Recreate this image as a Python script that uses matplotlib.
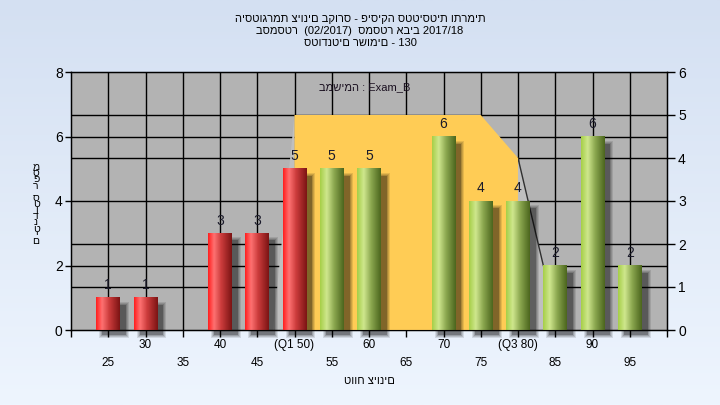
import numpy as np
import matplotlib
matplotlib.use('Agg')
import matplotlib.pyplot as plt
from matplotlib.colors import LinearSegmentedColormap
from matplotlib.patches import Polygon, Rectangle
import matplotlib.transforms as mtransforms

plt.rcParams['font.family'] = ['Liberation Sans', 'DejaVu Sans']

# ---------------- data ----------------
grades = [25, 30, 35, 40, 45, 50, 55, 60, 65, 70, 75, 80, 85, 90, 95]
tick_labels = ["25", "30", "35", "40", "45", "(Q1 50)", "55", "60", "65",
               "70", "75", "(Q3 80)", "85", "90", "95"]
counts = [1, 1, 0, 3, 3, 5, 5, 5, 0, 6, 4, 4, 2, 6, 2]
fail_limit = 50          # grades <= this are drawn red
q1_grade, q3_grade = 50, 80
band_top_right = 5       # right-axis value of the IQR band
band_shoulder_grade = 75
band_q3_right = 4
title_lines = ["היסטוגרמת ציונים בקורס - פיסיקה סטטיסטית ותרמית",
               "בסמסטר  (02/2017)  סמסטר אביב 2017/18",
               "סטודנטים רשומים - 130"]
task_text = "במשימה : Exam_B"
xlabel = "טווח ציונים"
ylabel = "מספר סטודנטים"
left_max, right_max = 8, 6

# ---------------- figure ----------------
W, H = 720, 405
fig = plt.figure(figsize=(W / 100, H / 100), dpi=100)

bg = fig.add_axes([0, 0, 1, 1], zorder=-10)
grad = np.linspace(0, 1, 256)[:, None]
bgcmap = LinearSegmentedColormap.from_list('bg', ['#d4e0f2', '#eef5fe'])
bg.imshow(grad, aspect='auto', cmap=bgcmap, extent=[0, 1, 0, 1], origin='upper')
bg.set_axis_off()

L, R, T, B = 71, 667, 72, 330
ax = fig.add_axes([L / W, (H - B) / H, (R - L) / W, (B - T) / H])
ax.set_facecolor('#b3b3b3')
n = len(grades)
xpos = np.arange(1, n + 1)
ax.set_xlim(0, n + 1)
ax.set_ylim(0, left_max)
k = left_max / right_max   # right -> left units
pos = {g: x for g, x in zip(grades, xpos)}

# grid
for x in xpos:
    ax.axvline(x, color='black', lw=1.0, zorder=1)
for y in [2, 4, 6]:
    ax.axhline(y, color='black', lw=1.0, zorder=1)
for y in [1, 2, 4, 5]:
    ax.axhline(y * k, color='black', lw=1.0, zorder=1)

bar_w = 0.64
xq1, xq3 = pos[q1_grade], pos[q3_grade]
xs = pos[band_shoulder_grade]
# shaded wedges
ax.add_patch(Polygon([(xq1 - 0.58, 0), (xq1, band_top_right * k), (xq1, 0)],
                     closed=True, facecolor='#bfbfbf', edgecolor='none', zorder=2))
nx = xq3 + 1 - bar_w / 2
ny = counts[grades.index(q3_grade) + 1]
ax.add_patch(Polygon([(xq3, band_q3_right * k), (nx, ny), (nx, 0), (xq3, 0)],
                     closed=True, facecolor='#bfbfbf', edgecolor='none', zorder=2))
ax.plot([xq3, nx], [band_q3_right * k, ny], color='#303030', lw=1.0, zorder=2.5)
# IQR band
ax.add_patch(Polygon([(xq1, 0), (xq1, band_top_right * k), (xs, band_top_right * k),
                      (xq3, band_q3_right * k), (xq3, 0)],
                     closed=True, facecolor='#ffcc55', edgecolor='none', zorder=3))

red_cmap = LinearSegmentedColormap.from_list(
    'r', [(0, '#ff1e1e'), (0.25, '#ff7272'), (0.55, '#cc3c3c'), (1, '#7c1414')])
green_cmap = LinearSegmentedColormap.from_list(
    'g', [(0, '#a6cf48'), (0.28, '#cfe78e'), (0.6, '#8aa64e'), (1, '#4c661e')])

px_x = 1 / 37.25
px_y = left_max / (B - T)
for g, x, h in zip(grades, xpos, counts):
    if h == 0:
        continue
    x0, x1 = x - bar_w / 2, x + bar_w / 2
    # shadow
    for e, a in [(3, 0.10), (2, 0.12), (1, 0.15), (0, 0.25)]:
        ax.add_patch(Rectangle((x0 + 6 * px_x - e * px_x, -5 * px_y - e * px_y),
                               bar_w + 2 * e * px_x, h + 2 * e * px_y - 2 * px_y,
                               facecolor='black', alpha=a, edgecolor='none',
                               zorder=4, clip_on=False))
    cm = red_cmap if g <= fail_limit else green_cmap
    img = cm(np.linspace(0, 1, 64))[None, :, :]
    ax.imshow(img, extent=[x0, x1, 0, h], aspect='auto', zorder=5,
              interpolation='bilinear')
    ax.annotate(str(h), (x, h), xytext=(0, 4), textcoords='offset points',
                ha='center', va='bottom', fontsize=10, color='#1a1a2a', zorder=6)
ax.set_xlim(0, n + 1)
ax.set_ylim(0, left_max)
ax.set_aspect('auto')

ax.text(0.493, 0.94, task_text, transform=ax.transAxes, ha='center', va='center',
        fontsize=8, color='#1a1020', zorder=6)

# ticks
ax.set_xticks(np.arange(0, n + 2))
ax.set_xticklabels([])
ax.tick_params(axis='x', length=5, width=1, color='black')
ax.set_yticks(range(0, left_max + 1, 2))
ax.tick_params(axis='y', length=4, width=1, labelsize=10, pad=2)
for s in ax.spines.values():
    s.set_color('black')
    s.set_linewidth(1.0)

trans = mtransforms.blended_transform_factory(ax.transData, fig.transFigure)
for i, (x, lab) in enumerate(zip(xpos, tick_labels)):
    ypix = 345 if i % 2 == 1 else 363
    ax.text(x, 1 - ypix / H, lab, transform=trans, ha='center', va='center',
            fontsize=8.5)

fig.text(369 / W, 1 - 381 / H, xlabel, ha='center', va='center', fontsize=8)
fig.text(36 / W, 1 - 204 / H, "\n".join(ylabel), ha='center', va='center',
         fontsize=7.5, linespacing=0.52)

axr = ax.twinx()
axr.set_ylim(0, right_max)
axr.set_yticks(range(0, right_max + 1))
axr.tick_params(axis='y', length=6, width=1, labelsize=10, pad=2)

fig.text(0.5, 1 - 31 / H, "\n".join(title_lines), ha='center',
         va='center', fontsize=8, linespacing=1.27)

fig.savefig('out.png', dpi=100)
